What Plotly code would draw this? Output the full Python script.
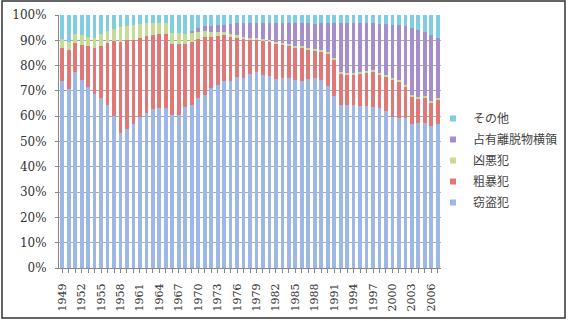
import plotly.graph_objects as go

years = list(range(1949, 2008))

theft = [74.1, 70.8, 77.5, 74.2, 71.5, 68.6, 67.0, 64.3, 60.0, 53.3,
         55.1, 57.0, 59.5, 61.4, 63.0, 63.4, 63.4, 60.5, 60.5, 63.6,
         64.3, 67.3, 68.3, 71.2, 72.5, 73.8, 74.1, 75.5, 75.1, 76.8,
         77.4, 76.2, 75.8, 74.9, 75.0, 75.0, 74.5, 74.1, 74.9, 75.0,
         74.5, 71.9, 67.9, 64.3, 64.3, 64.3, 64.0, 64.0, 63.7, 63.4,
         62.0, 59.8, 59.4, 59.2, 56.8, 57.2, 57.5, 56.2, 56.8]
violent = [12.8, 15.2, 11.4, 14.0, 16.3, 18.3, 20.6, 24.8, 29.9, 36.2,
           34.9, 33.2, 31.3, 30.3, 29.1, 29.1, 29.0, 28.0, 28.0, 24.9,
           25.2, 23.1, 22.9, 20.3, 19.2, 18.1, 17.4, 15.6, 15.5, 13.6,
           12.8, 13.7, 13.7, 14.0, 13.2, 12.8, 12.8, 13.2, 11.6, 11.0,
           11.1, 13.0, 14.4, 12.5, 12.1, 12.1, 13.0, 13.4, 14.0, 13.0,
           13.5, 14.7, 14.2, 12.4, 11.1, 9.7, 9.8, 9.1, 9.8]
heinous = [3.5, 3.5, 3.6, 3.9, 3.4, 3.9, 4.9, 4.4, 4.5, 5.7,
           5.7, 5.9, 5.7, 5.0, 4.9, 4.5, 4.3, 4.4, 4.4, 4.0,
           3.5, 3.0, 2.3, 1.8, 1.5, 1.2, 1.0, 0.8, 0.7, 0.6,
           0.6, 0.6, 0.6, 0.6, 0.6, 0.6, 0.6, 0.6, 0.6, 0.6,
           0.6, 0.6, 0.6, 0.6, 0.6, 0.6, 0.6, 0.6, 0.6, 0.6,
           0.6, 0.6, 0.6, 0.6, 0.6, 0.6, 0.6, 0.6, 0.6]
embezzle = [0, 0, 0, 0, 0, 0, 0, 0, 0, 0,
            0, 0, 0, 0, 0, 0, 0, 0, 0, 0,
            0.5, 1.5, 2.0, 2.5, 2.8, 3.1, 4.0, 4.8, 5.4, 5.7,
            5.9, 6.2, 6.6, 7.2, 7.9, 8.3, 8.8, 8.8, 9.6, 10.1,
            10.5, 11.2, 13.8, 19.3, 19.7, 19.7, 19.1, 18.7, 18.4, 19.6,
            20.3, 21.1, 21.8, 23.5, 26.2, 26.5, 25.5, 26.2, 23.6]
other = [9.6, 10.5, 7.5, 7.9, 8.8, 9.2, 7.5, 6.5, 5.6, 4.8,
         4.3, 3.9, 3.5, 3.3, 3.0, 3.0, 3.3, 7.1, 7.1, 7.5,
         6.5, 5.1, 4.5, 4.2, 4.0, 3.8, 3.5, 3.3, 3.3, 3.3,
         3.3, 3.3, 3.3, 3.3, 3.3, 3.3, 3.3, 3.3, 3.3, 3.4,
         3.3, 3.3, 3.3, 3.3, 3.3, 3.3, 3.3, 3.3, 3.3, 3.4,
         3.6, 3.8, 4.0, 4.3, 5.3, 6.0, 6.6, 7.9, 9.2]

series_names = ["窃盗犯", "粗暴犯", "凶悪犯", "占有離脱物横領", "その他"]
series_values = [theft, violent, heinous, embezzle, other]
colors = ["#9db8e6", "#df7876", "#c6dc94", "#a58ecb", "#7ecde0"]

fig = go.Figure()
for name, vals, col in zip(series_names, series_values, colors):
    fig.add_trace(go.Bar(x=years, y=vals, name=name, marker_color=col,
                         marker_line_width=0, showlegend=False))
# legend entries with small square swatches (top entry is the top series)
for name, col in list(zip(series_names, colors))[::-1]:
    fig.add_trace(go.Scatter(x=[None], y=[None], mode="markers", name=name,
                             legendgroup=name,
                             marker=dict(symbol="square", size=6, color=col)))

serif = "DejaVu Serif, Liberation Serif, serif"
fig.update_layout(
    barmode="stack",
    barnorm="percent",
    bargap=0.42,
    width=568, height=321,
    margin=dict(l=59, r=127, t=15, b=53, autoexpand=False),
    plot_bgcolor="white",
    paper_bgcolor="white",
    font=dict(family=serif, size=11, color="#333333"),
    showlegend=True,
    legend=dict(x=(433 - 59) / 382, y=(268 - 104) / 253, xanchor="left", yanchor="top",
                traceorder="grouped",
                font=dict(family="Noto Sans CJK JP, sans-serif", size=12, color="#444444"),
                itemwidth=30, tracegroupgap=2,
                bgcolor="rgba(0,0,0,0)"),
    xaxis=dict(
        range=[1948.5, 2007.5],
        tickmode="linear", tick0=1949, dtick=3,
        tickangle=-90,
        ticks="outside", ticklen=4, tickcolor="#888888",
        ticklabelstandoff=6,
        showgrid=False,
        showline=True, linecolor="#888888", linewidth=1,
        tickfont=dict(family=serif, size=11, color="#333333"),
        minor=dict(ticks="outside", dtick=1, ticklen=4, tickcolor="#888888"),
    ),
    yaxis=dict(
        range=[0, 100],
        tickmode="linear", tick0=0, dtick=10,
        ticksuffix="%",
        ticks="outside", ticklen=3, tickcolor="#888888",
        ticklabelstandoff=6,
        showgrid=True, gridcolor="#aaaaaa", gridwidth=1,
        showline=True, linecolor="#888888", linewidth=1,
        tickfont=dict(family=serif, size=12, color="#333333"),
        zeroline=False,
    ),
    shapes=[dict(type="rect", xref="paper", yref="paper",
                 x0=(2 - 59) / 382, x1=(565 - 59) / 382,
                 y0=(268 - 318) / 253, y1=(268 - 1) / 253,
                 line=dict(color="#333333", width=1.5),
                 fillcolor="rgba(0,0,0,0)", layer="above")],
)

fig.write_html("out.html")
